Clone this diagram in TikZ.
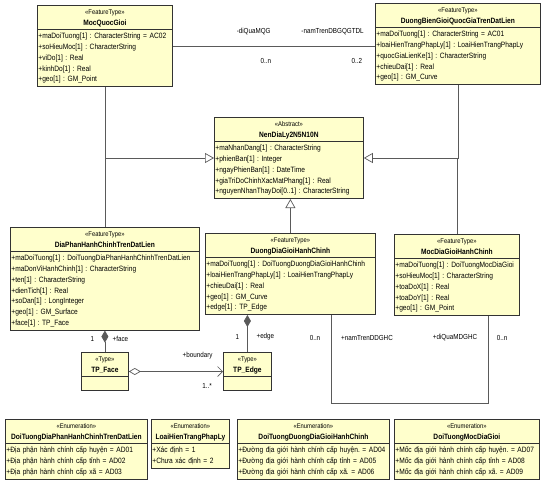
\documentclass[tikz,border=0pt]{standalone}
\usepackage{fontspec}
\setmainfont{Liberation Sans}[FakeStretch=0.86]
\usetikzlibrary{shapes.multipart,arrows.meta}
\definecolor{umlfill}{HTML}{FFFFCC}
\definecolor{umlline}{HTML}{333333}
\definecolor{linkgray}{HTML}{5A5A5A}
\newcommand{\stereo}[1]{{\fontsize{6.8}{8}\selectfont «#1»}}
\newcommand{\umlhead}[2]{\centering\strut\stereo{#1}\\\textbf{#2}\strut\par}
\newcommand{\attrs}[1]{\noindent\begin{tabular}{@{}l@{}}#1\end{tabular}\par}

\begin{document}
\begin{tikzpicture}[x=1pt,y=-1pt,
    umlclass/.style={rectangle split, rectangle split parts=2, draw=umlline, fill=umlfill,
      line width=0.8pt, inner xsep=1pt, inner ysep=1pt, anchor=north west, align=left,
      font=\fontsize{7.7}{10.8}\selectfont\frenchspacing},
    link/.style={draw=linkgray, line width=0.7pt},
    inherit/.style={link, -{Triangle[open,length=9pt,width=10pt]}},
    compose/.style={link, {Diamond[length=12pt,width=7pt]}-},
    aggregate/.style={link, {Diamond[open,length=12pt,width=7pt]}-{Straight Barb[length=5pt,width=10pt]}},
    role/.style={font=\fontsize{7.3}{8}\selectfont, inner sep=1pt}]
    \useasboundingbox (0,0) rectangle (541,482);

    % top row
    \node[umlclass, text width=133pt] (mqg) at (37,5) {\umlhead{FeatureType}{MocQuocGioi}
      \nodepart{two}\attrs{+maDoiTuong[1] : CharacterString = AC02\\+soHieuMoc[1] : CharacterString\\+viDo[1] : Real\\+kinhDo[1] : Real\\+geo[1] : GM\_Point}};
    \node[umlclass, text width=163pt] (dbg) at (375,3) {\umlhead{FeatureType}{DuongBienGioiQuocGiaTrenDatLien}
      \nodepart{two}\attrs{+maDoiTuong[1] : CharacterString = AC01\\+loaiHienTrangPhapLy[1] : LoaiHienTrangPhapLy\\+quocGiaLienKe[1] : CharacterString\\+chieuDai[1] : Real\\+geo[1] : GM\_Curve}};
    \node[umlclass, text width=147pt] (nen) at (214,117) {\umlhead{Abstract}{NenDiaLy2N5N10N}
      \nodepart{two}\attrs{+maNhanDang[1] : CharacterString\\+phienBan[1] : Integer\\+ngayPhienBan[1] : DateTime\\+giaTriDoChinhXacMatPhang[1] : Real\\+nguyenNhanThayDoi[0..1] : CharacterString}};

    % middle row
    \node[umlclass, text width=187pt] (dphc) at (10,227) {\umlhead{FeatureType}{DiaPhanHanhChinhTrenDatLien}
      \nodepart{two}\attrs{+maDoiTuong[1] : DoiTuongDiaPhanHanhChinhTrenDatLien\\+maDonViHanhChinh[1] : CharacterString\\+ten[1] : CharacterString\\+dienTich[1] : Real\\+soDan[1] : LongInteger\\+geo[1] : GM\_Surface\\+face[1] : TP\_Face}};
    \node[umlclass, text width=168pt] (ddg) at (205,233) {\umlhead{FeatureType}{DuongDiaGioiHanhChinh}
      \nodepart{two}\attrs{+maDoiTuong[1] : DoiTuongDuongDiaGioiHanhChinh\\+loaiHienTrangPhapLy[1] : LoaiHienTrangPhapLy\\+chieuDai[1] : Real\\+geo[1] : GM\_Curve\\+edge[1] : TP\_Edge}};
    \node[umlclass, text width=123pt] (mdg) at (394,234) {\umlhead{FeatureType}{MocDiaGioiHanhChinh}
      \nodepart{two}\attrs{+maDoiTuong[1] : DoiTuongMocDiaGioi\\+soHieuMoc[1] : CharacterString\\+toaDoX[1] : Real\\+toaDoY[1] : Real\\+geo[1] : GM\_Point}};

    % topology types
    \node[umlclass, text width=45pt] (tpf) at (81,352) {\umlhead{Type}{TP\_Face}
      \nodepart{two}\rule{0pt}{11pt}};
    \node[umlclass, text width=46pt] (tpe) at (223,352) {\umlhead{Type}{TP\_Edge}
      \nodepart{two}\rule{0pt}{11pt}};

    % enumerations
    \node[umlclass, text width=140pt] (enDphc) at (5,419) {\umlhead{Enumeration}{DoiTuongDiaPhanHanhChinhTrenDatLien}
      \nodepart{two}\attrs{+Địa phận hành chính cấp huyện = AD01\\+Địa phận hành chính cấp tỉnh = AD02\\+Địa phận hành chính cấp xã = AD03}};
    \node[umlclass, text width=76pt] (enHt) at (151,419) {\umlhead{Enumeration}{LoaiHienTrangPhapLy}
      \nodepart{two}\attrs{+Xác định = 1\\+Chưa xác định = 2}};
    \node[umlclass, text width=150pt] (enDdg) at (237,419) {\umlhead{Enumeration}{DoiTuongDuongDiaGioiHanhChinh}
      \nodepart{two}\attrs{+Đường địa giới hành chính cấp huyện. = AD04\\+Đường địa giới hành chính cấp tỉnh = AD05\\+Đường địa giới hành chính cấp xã. = AD06}};
    \node[umlclass, text width=143pt] (enMdg) at (394,419) {\umlhead{Enumeration}{DoiTuongMocDiaGioi}
      \nodepart{two}\attrs{+Mốc địa giới hành chính cấp huyện. = AD07\\+Mốc địa giới hành chính cấp tỉnh = AD08\\+Mốc địa giới hành chính cấp xã. = AD09}};

    % generalisations
    \draw[inherit] (mqg.south) |- (nen.west);
    \draw[link] (dphc.north) -- (dphc.north |- nen.west);
    \draw[inherit] (dbg.south) |- (nen.east);
    \draw[link] (mdg.north) -- (mdg.north |- nen.east);
    \draw[inherit] (ddg.north) -- (ddg.north |- nen.south);

    % associations
    \draw[link] (mqg.east) -- (mqg.east -| dbg.west)
      node[role, pos=0.40, yshift=14.5pt] (rMqg) {-diQuaMQG}
      node[role, pos=0.46, yshift=-15pt] (mMqg) {0..n}
      node[role, pos=0.79, yshift=14.5pt] (rDbg) {-namTrenDBGQGTDL}
      node[role, pos=0.91, yshift=-15pt] (mDbg) {0..2};
    \draw[compose] (dphc.south) -- (tpf.north)
      node[role, pos=0.38, xshift=-12.5pt] (mFace) {1}
      node[role, pos=0.38, xshift=15.5pt] (rFace) {+face};
    \draw[compose] (tpe.north |- ddg.south) -- (tpe.north)
      node[role, pos=0.59, xshift=-10pt] (mEdge) {1}
      node[role, pos=0.59, xshift=18pt] (rEdge) {+edge};
    \draw[aggregate] (tpf.east) -- (tpe.west)
      node[role, pos=0.73, yshift=16pt] (rBound) {+boundary}
      node[role, pos=0.83, yshift=-14pt] (mBound) {1..*};
    \draw[link] ([xshift=41pt]ddg.south) -- ++(0,88) coordinate (lowBend) -| ([xshift=31.5pt]mdg.south);
    \node[role] (mDdg) at (315,338) {0..n};
    \node[role] (rDdg) at (367,338) {+namTrenDDGHC};
    \node[role] (rMdg) at (455,338) {+diQuaMDGHC};
    \node[role] (mMdg) at (502,338) {0..n};
\end{tikzpicture}
\end{document}
